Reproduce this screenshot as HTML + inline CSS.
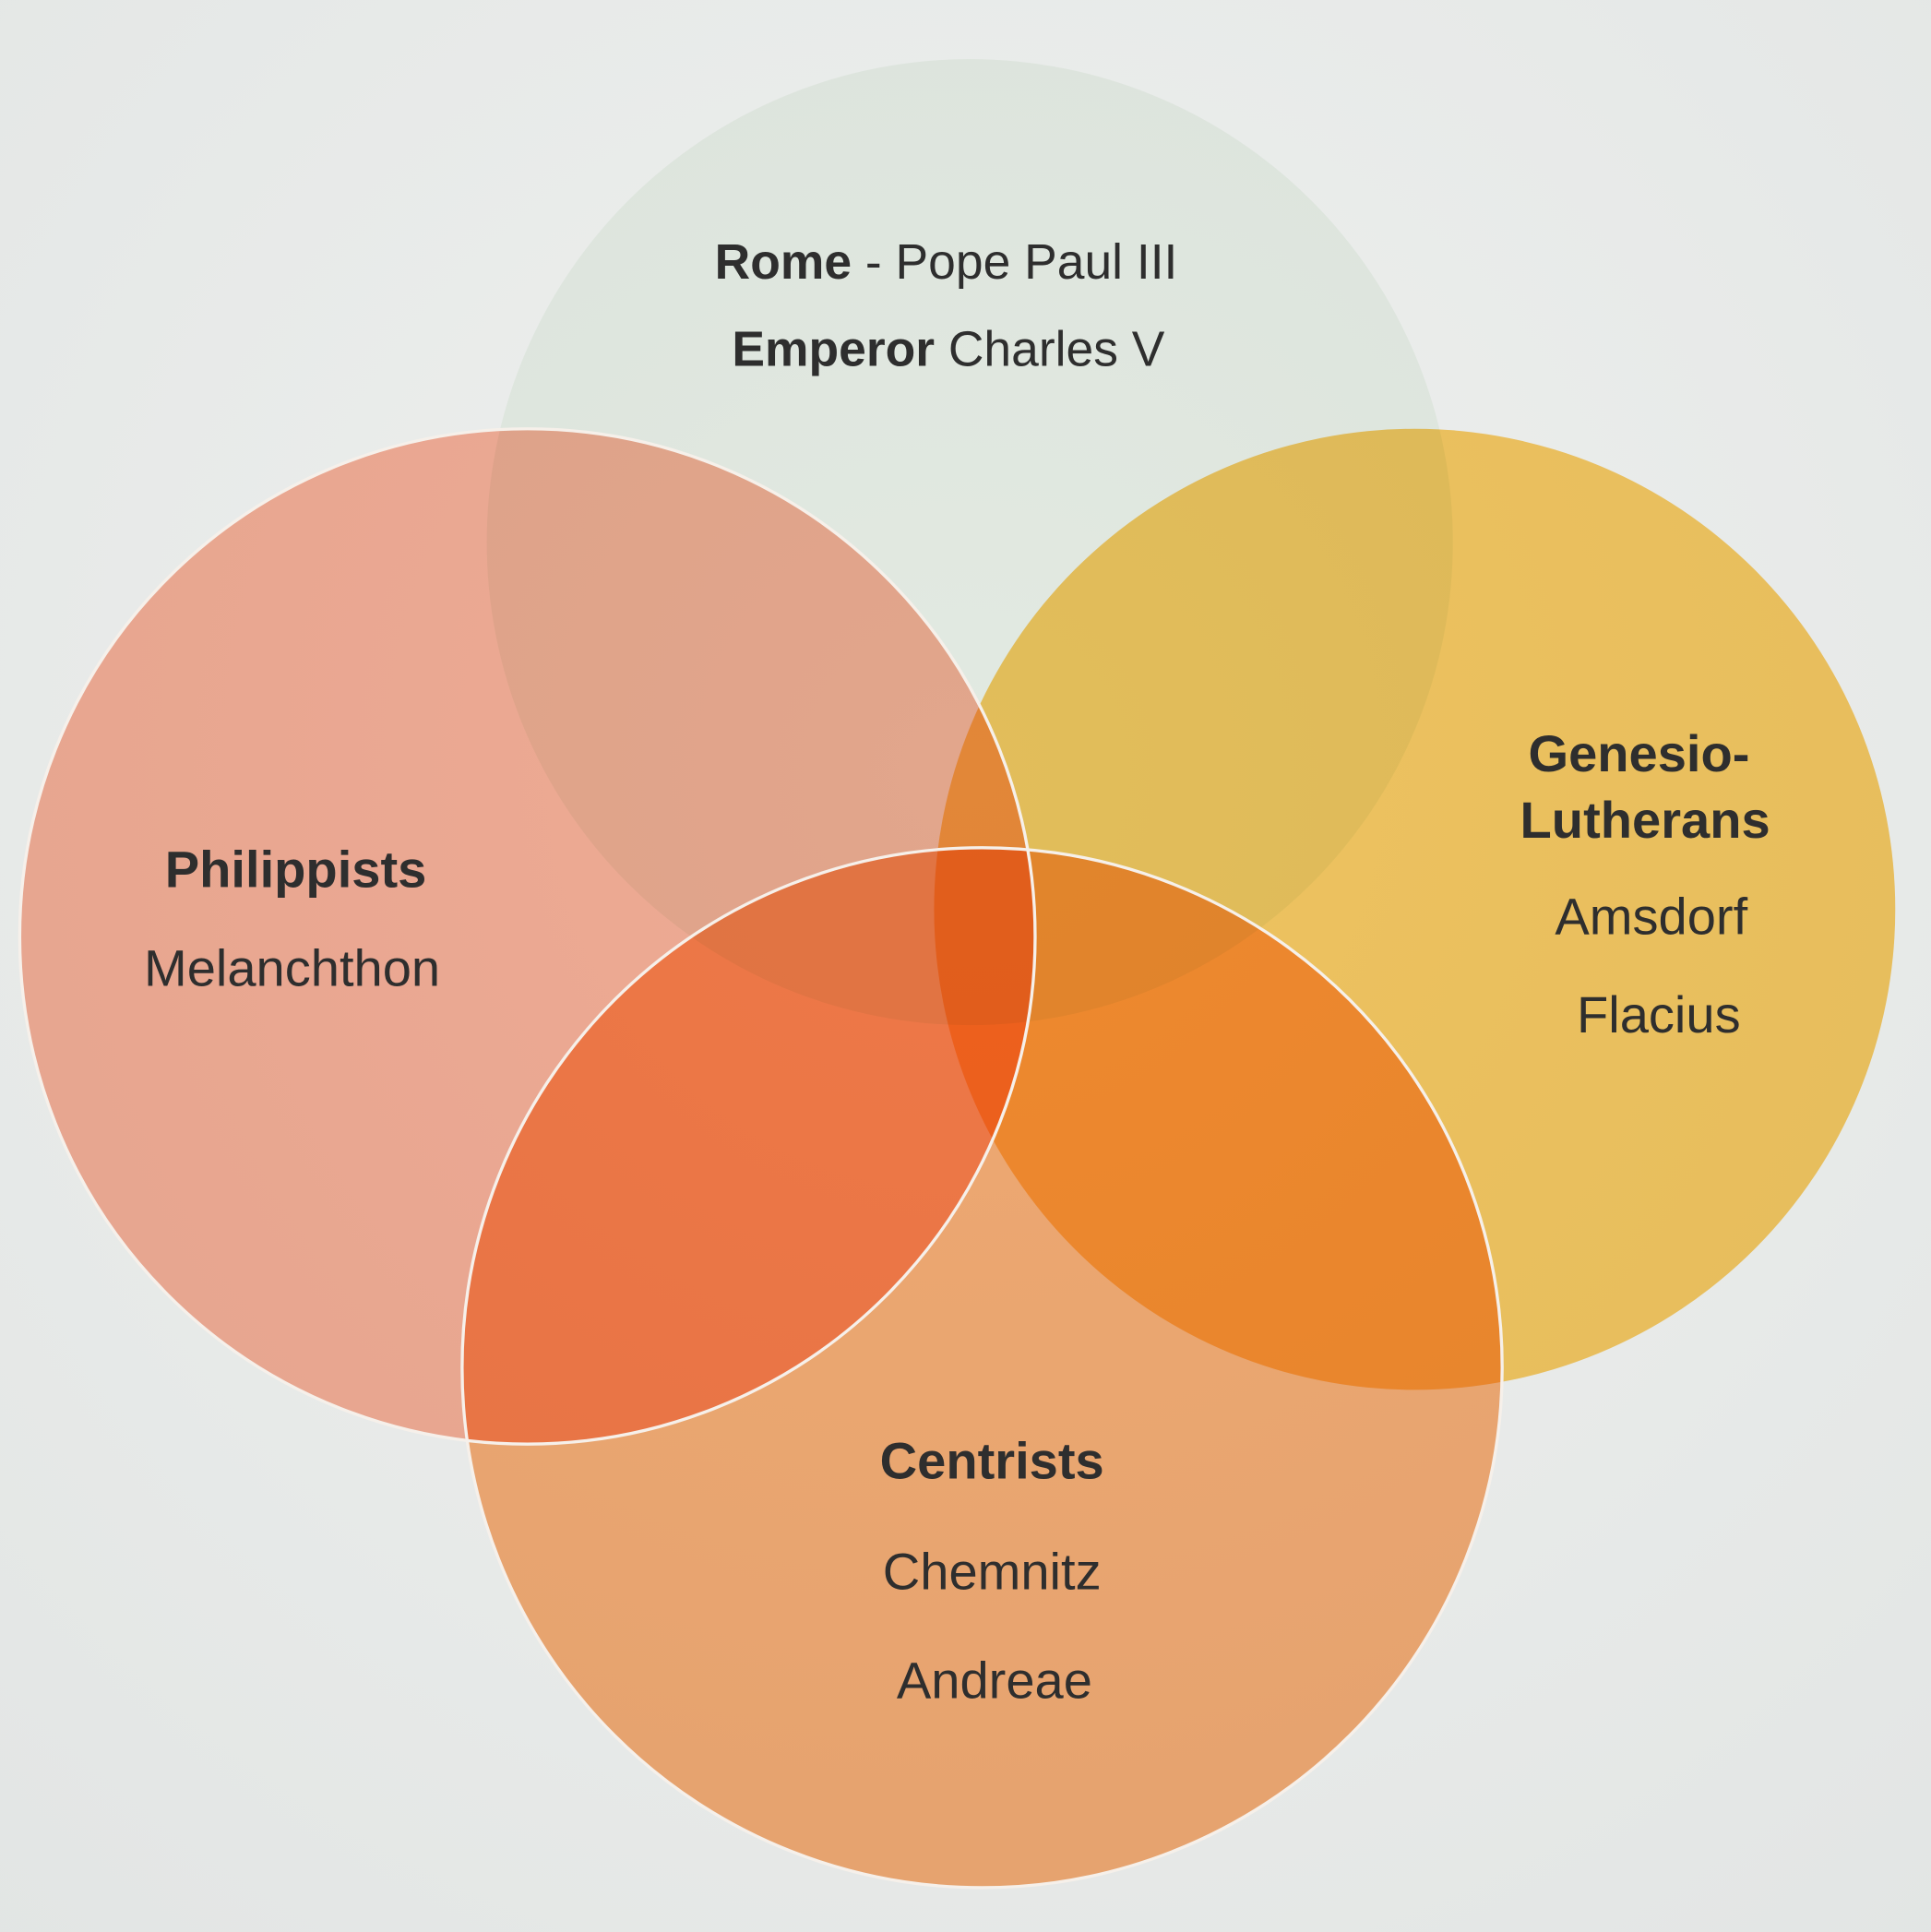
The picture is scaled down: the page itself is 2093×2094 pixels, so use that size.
<!DOCTYPE html>
<html><head><meta charset="utf-8"><style>
html,body{margin:0;padding:0;background:#e8eae9;}
svg{display:block}
text{font-family:"Liberation Sans",sans-serif;fill:#2e2e2e;}
</style></head><body>
<svg width="2093" height="2094" viewBox="0 0 1567 1568" preserveAspectRatio="none" xmlns="http://www.w3.org/2000/svg">
<defs>
<radialGradient id="bg" cx="0.5" cy="0.4" r="0.8">
<stop offset="0" stop-color="#eff1ef"/><stop offset="1" stop-color="#e2e5e4"/>
</radialGradient>
</defs>
<g style="isolation:isolate">
<rect width="1567" height="1568" fill="url(#bg)"/>
<circle cx="428" cy="760" r="412" fill="#ffb59e" style="mix-blend-mode:multiply"/>
<circle cx="1148" cy="738" r="390" fill="#ffcf66" style="mix-blend-mode:multiply"/>
<circle cx="797" cy="1110" r="422" fill="#ffb37a" style="mix-blend-mode:multiply"/>
<circle cx="787" cy="440" r="392" fill="#f2f8f1" style="mix-blend-mode:multiply"/>
</g>
<g fill="none" stroke="#f6f0ea" stroke-width="2.5">
<circle cx="428" cy="760" r="412"/>
<circle cx="797" cy="1110" r="422"/>
</g>
<g font-size="40">
<text x="580" y="226"><tspan font-weight="bold">Rome</tspan> - Pope Paul III</text>
<text x="594" y="297"><tspan font-weight="bold">Emperor</tspan> Charles V</text>
</g>
<g font-size="42" text-anchor="middle">
<text x="240" y="720" font-weight="bold">Philippists</text>
<text x="237" y="800">Melanchthon</text>
<text x="1330" y="626" font-weight="bold">Genesio-</text>
<text x="1335" y="680" font-weight="bold">Lutherans</text>
<text x="1340" y="758">Amsdorf</text>
<text x="1346" y="838">Flacius</text>
<text x="805" y="1200" font-weight="bold">Centrists</text>
<text x="805" y="1290">Chemnitz</text>
<text x="807" y="1378">Andreae</text>
</g>
</svg>
</body></html>
